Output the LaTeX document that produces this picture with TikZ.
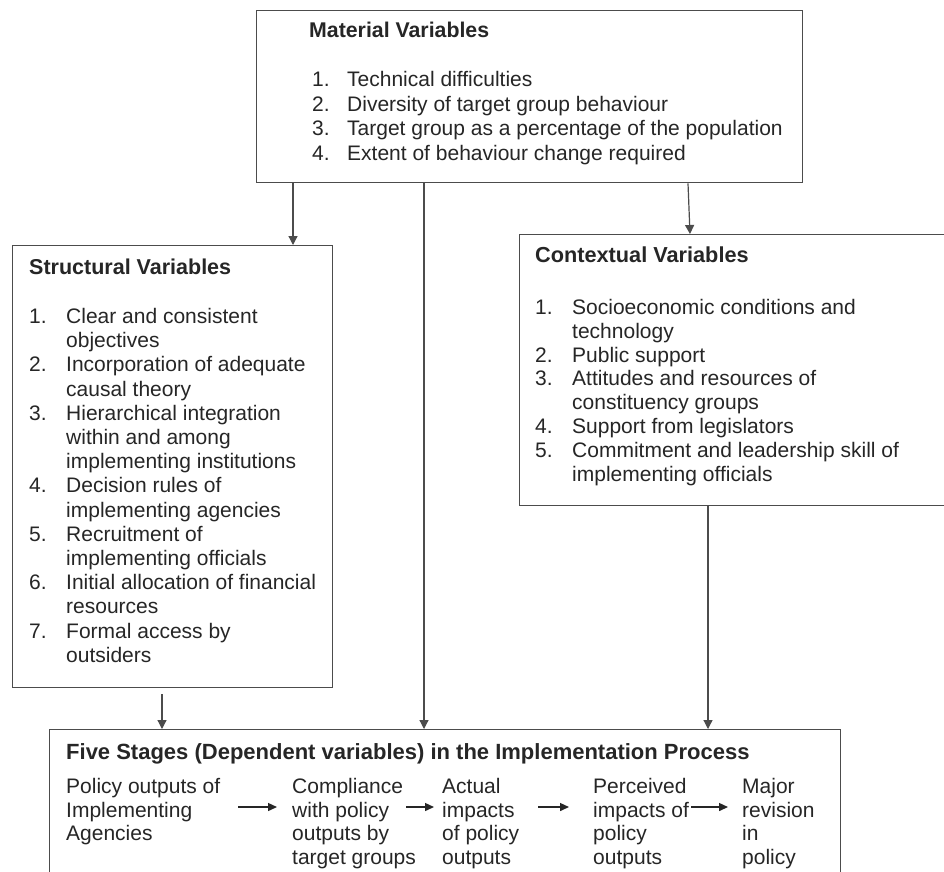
\documentclass[tikz,border=0pt]{standalone}
\usepackage{fontspec}
\setmainfont{Liberation Sans}
\usetikzlibrary{positioning,arrows.meta}

\begin{document}
\begin{tikzpicture}[
  x=1pt, y=-1pt,
  varbox/.style={draw=black!70, line width=1.3pt, inner sep=0pt, anchor=north west},
  listtxt/.style={inner sep=0pt, anchor=base west, text=black!85},
  stagetxt/.style={listtxt, font=\fontsize{21}{23.5}\selectfont},
  flow/.style={draw=black!70, line width=1.2pt, -{Triangle[width=9pt,length=9pt]}},
  stagearrow/.style={draw=black!85, line width=1.4pt, -{Triangle[width=8pt,length=9pt]}},
]
  \useasboundingbox (0,0) rectangle (944,871);
  \clip (0,0) rectangle (944,871);
  \fill[white] (0,0) rectangle (944,871);

  % Variable boxes
  \node[varbox, minimum width=546pt, minimum height=172pt] (mat) at (256,10) {};
  \node[varbox, minimum width=320pt, minimum height=442pt] (struct) at (12,245) {};
  \node[varbox, minimum width=450pt, minimum height=271pt] (ctx) at (519,234) {};
  \node[varbox, minimum width=791pt, minimum height=170pt] (bot) at (49,729) {};

  % Material variables
  \node[listtxt, font=\fontsize{21}{24.5}\selectfont] (matlist)
    at ([shift={(53pt,-27.5pt)}]mat.north west) {%
    \begin{tabular}[t]{@{\hspace{3pt}}p{35pt}@{}l@{}}
      \multicolumn{2}{@{}l@{}}{\fontsize{21.3}{24.5}\selectfont\bfseries Material Variables}\\[24.5pt]
      1. & Technical difficulties\\
      2. & Diversity of target group behaviour\\
      3. & Target group as a percentage of the population\\
      4. & Extent of behaviour change required
    \end{tabular}};

  % Structural variables
  \node[listtxt, font=\fontsize{21}{24.2}\selectfont] (structlist)
    at ([shift={(17pt,-29.5pt)}]struct.north west) {%
    \begin{tabular}[t]{@{}p{37pt}@{}l@{}}
      \multicolumn{2}{@{}l@{}}{\fontsize{21.5}{24.2}\selectfont\bfseries Structural Variables}\\[24.8pt]
      1. & Clear and consistent\\
         & objectives\\
      2. & Incorporation of adequate\\
         & causal theory\\
      3. & Hierarchical integration\\
         & within and among\\
         & implementing institutions\\
      4. & Decision rules of\\
         & implementing agencies\\
      5. & Recruitment of\\
         & implementing officials\\
      6. & Initial allocation of financial\\
         & resources\\
      7. & Formal access by\\
         & outsiders
    \end{tabular}};

  % Contextual variables
  \node[listtxt, font=\fontsize{21}{23.8}\selectfont] (ctxlist)
    at ([shift={(16pt,-28.5pt)}]ctx.north west) {%
    \begin{tabular}[t]{@{}p{37pt}@{}l@{}}
      \multicolumn{2}{@{}l@{}}{\fontsize{21.7}{23.8}\selectfont\bfseries Contextual Variables}\\[28.2pt]
      1. & Socioeconomic conditions and\\
         & technology\\
      2. & Public support\\
      3. & Attitudes and resources of\\
         & constituency groups\\
      4. & Support from legislators\\
      5. & Commitment and leadership skill of\\
         & implementing officials
    \end{tabular}};

  % Implementation stages
  \node[listtxt, font=\fontsize{22}{24}\selectfont\bfseries] (bothead)
    at ([shift={(17pt,-30.5pt)}]bot.north west)
    {Five Stages (Dependent variables) in the Implementation Process};
  \node[stagetxt] (s1) at ([shift={(17pt,-64.5pt)}]bot.north west)
    {\begin{tabular}[t]{@{}l@{}}Policy outputs of\\Implementing\\Agencies\end{tabular}};
  \node[stagetxt] (s2) at ([shift={(243pt,-64.5pt)}]bot.north west)
    {\begin{tabular}[t]{@{}l@{}}Compliance\\with policy\\outputs by\\target groups\end{tabular}};
  \node[stagetxt] (s3) at ([shift={(393pt,-64.5pt)}]bot.north west)
    {\begin{tabular}[t]{@{}l@{}}Actual\\impacts\\of policy\\outputs\end{tabular}};
  \node[stagetxt] (s4) at ([shift={(544pt,-64.5pt)}]bot.north west)
    {\begin{tabular}[t]{@{}l@{}}Perceived\\impacts of\\policy\\outputs\end{tabular}};
  \node[stagetxt] (s5) at ([shift={(693pt,-64.5pt)}]bot.north west)
    {\begin{tabular}[t]{@{}l@{}}Major\\revision\\in\\policy\end{tabular}};

  % Arrows between stages
  \draw[stagearrow] ([shift={(18pt,-13.5pt)}]s1.base east) -- ([shift={(-15pt,-13.5pt)}]s2.base west);
  \draw[stagearrow] ([shift={(-10pt,-13.5pt)}]s2.base east) -- ([shift={(-8pt,-13.5pt)}]s3.base west);
  \draw[stagearrow] ([shift={(19pt,-13.5pt)}]s3.base east) -- ([shift={(-24pt,-13.5pt)}]s4.base west);
  \draw[stagearrow] ([shift={(2pt,-13.5pt)}]s4.base east) -- ([shift={(-14pt,-13.5pt)}]s5.base west);

  % Arrows between boxes
  \draw[flow] ([xshift=37pt]mat.south west) -- ([xshift=281pt]struct.north west);
  \draw[flow] ([xshift=168pt]mat.south west) -- ([xshift=375pt]bot.north west);
  \draw[flow] ([xshift=432pt]mat.south west) -- ([xshift=171pt]ctx.north west);
  \draw[flow, shorten <=6pt] ([xshift=150pt]struct.south west) -- ([xshift=113pt]bot.north west);
  \draw[flow] ([xshift=189pt]ctx.south west) -- ([xshift=659pt]bot.north west);
\end{tikzpicture}
\end{document}
